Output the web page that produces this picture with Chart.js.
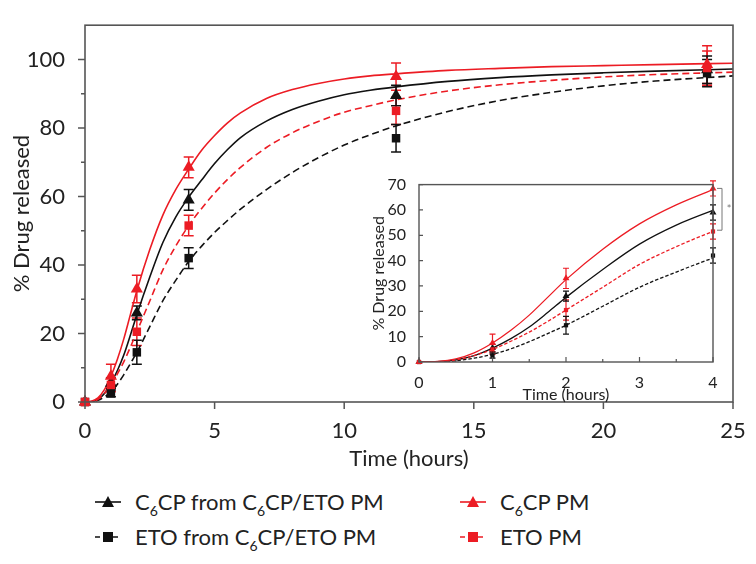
<!DOCTYPE html>
<html>
<head>
<meta charset="utf-8">
<script src="https://cdn.jsdelivr.net/npm/chart.js@4.4.1/dist/chart.umd.min.js"></script>
<style>
  body { margin: 0; background: #fff; font-family: Lato, "Open Sans", sans-serif; color: #222; }
  #wrap { position: relative; width: 756px; height: 564px; overflow: hidden; }
  #main { position: absolute; left: 0; top: 0; }
  #inset { position: absolute; left: 360px; top: 170px; }
  .leg { position: absolute; font-size: 22px; line-height: 26px; white-space: nowrap; display: flex; align-items: center; }
  .leg svg { margin-right: 14px; }
  .leg sub { font-size: 14px; vertical-align: -6px; line-height: 0; }
</style>
</head>
<body>
<div id="wrap">
  <canvas id="main" width="756" height="480"></canvas>
  <canvas id="inset" width="395" height="240"></canvas>
  <div id="legend"></div>
</div>
<script>
// sampling times and measured release (%), with error bars
const sampleHours = [0, 1, 2, 4, 12, 24];
const c6cpMix    = [0, 5.5, 26, 59, 89.5, 97];
const c6cpMixErr = [0, 1.5, 2, 3, 3, 4];
const etoMix     = [0, 2.5, 14.5, 42, 77, 96];
const etoMixErr  = [0, 1, 3.5, 3, 4, 4];
const c6cpPM     = [0, 7.5, 33, 68.5, 95, 98.5];
const c6cpPMErr  = [0, 3.5, 4, 3, 4, 5.5];
const etoPM      = [0, 5, 20.5, 51.5, 85, 97.5];
const etoPMErr   = [0, 2, 4, 3, 4, 5];

// fitted curves
const fitHours   = [0, 0.25, 0.5, 0.75, 1, 1.25, 1.5, 1.75, 2, 2.5, 3, 3.5, 4, 4.5, 5, 5.5, 6, 7, 8, 9, 10, 11, 12, 14, 16, 18, 20, 22, 25];
const c6cpMixFit = [0, 0.1, 0.8, 2.5, 5.5, 9.2, 13.8, 19.5, 25.5, 36.5, 46.5, 54, 59.8, 64.8, 69.6, 73.7, 77.2, 82, 85.4, 87.8, 89.7, 91, 92, 93.6, 94.7, 95.5, 96.1, 96.6, 97.2];
const etoMixFit  = [0, 0, 0.5, 1.5, 3, 5.2, 8, 11.2, 14.5, 22, 29.5, 35.5, 41, 45.5, 49.5, 53, 56.3, 62, 67, 71.3, 75, 78, 80.6, 84.8, 88, 90.4, 92.3, 93.7, 95.2];
const c6cpPMFit  = [0, 0.2, 1.2, 3.6, 7.5, 12.5, 18.5, 25.5, 32.5, 44.5, 54.5, 62, 68, 73.5, 77.8, 81.5, 84.4, 88.6, 91.2, 93, 94.3, 95.2, 95.8, 96.8, 97.4, 97.9, 98.2, 98.5, 98.9];
const etoPMFit   = [0, 0.1, 0.8, 2.5, 5, 8.2, 11.8, 16, 20.5, 29.5, 38.5, 45.5, 51.5, 56.5, 61, 65, 68.5, 74.3, 78.6, 81.9, 84.6, 86.5, 88.2, 90.8, 92.6, 93.9, 94.9, 95.6, 96.3];

// significance bracket in the inset (at 4 h)
const bracketRange = [52, 68.5];

const mainYTicks = [0, 20, 40, 60, 80, 100];
const mainXTicks = [0, 5, 10, 15, 20, 25];
const insetYTicks = [0, 10, 20, 30, 40, 50, 60, 70];
const insetXTicks = [0, 1, 2, 3, 4];

const RED = '#ec1c24';
const BLACK = '#111111';
const AXIS = '#555555';

const series = [
  { label: 'C<sub>6</sub>CP PM', y: c6cpPM, err: c6cpPMErr, fit: c6cpPMFit, color: RED, shape: 'triangle', dash: [] },
  { label: 'ETO PM', y: etoPM, err: etoPMErr, fit: etoPMFit, color: RED, shape: 'rect', dash: [7, 4] },
  { label: 'C<sub>6</sub>CP from C<sub>6</sub>CP/ETO PM', y: c6cpMix, err: c6cpMixErr, fit: c6cpMixFit, color: BLACK, shape: 'triangle', dash: [] },
  { label: 'ETO from C<sub>6</sub>CP/ETO PM', y: etoMix, err: etoMixErr, fit: etoMixFit, color: BLACK, shape: 'rect', dash: [7, 4] }
];

function pts(xs, ys, maxX) {
  const out = [];
  xs.forEach((x, i) => { if (x <= maxX) out.push({ x: x, y: ys[i] }); });
  return out;
}

function buildDatasets(maxX, radius, lineW, dashScale) {
  const ds = [];
  series.forEach((s, i) => {
    ds.push({
      data: pts(sampleHours, s.y, maxX),
      errors: s.err,
      showLine: false,
      pointStyle: s.shape,
      pointRadius: s.shape === 'triangle' ? radius + 1 : radius,
      backgroundColor: s.color,
      borderColor: s.color,
      borderWidth: 0,
      clip: false,
      order: i
    });
    ds.push({
      data: pts(fitHours, s.fit, 25),
      showLine: true,
      pointRadius: 0,
      borderColor: s.color,
      borderWidth: lineW,
      borderDash: s.dash.map(d => d * dashScale),
      cubicInterpolationMode: 'monotone',
      order: 10 + i
    });
  });
  return ds;
}

// box, custom ticks and error bars
const decor = {
  id: 'decor',
  beforeDatasetsDraw(chart, args, opts) {
    const ctx = chart.ctx;
    const xs = chart.scales.x, ys = chart.scales.y;
    ctx.save();
    chart.data.datasets.forEach(ds => {
      if (!ds.errors) return;
      ctx.strokeStyle = ds.borderColor;
      ctx.lineWidth = opts.errW;
      ds.data.forEach((p, i) => {
        const e = ds.errors[i];
        if (!e) return;
        const px = xs.getPixelForValue(p.x);
        const top = ys.getPixelForValue(p.y + e);
        const bot = ys.getPixelForValue(p.y - e);
        ctx.beginPath();
        ctx.moveTo(px, top); ctx.lineTo(px, bot);
        ctx.moveTo(px - opts.cap, top); ctx.lineTo(px + opts.cap, top);
        ctx.moveTo(px - opts.cap, bot); ctx.lineTo(px + opts.cap, bot);
        ctx.stroke();
      });
    });
    ctx.restore();
  },
  afterDatasetsDraw(chart, args, opts) {
    const ctx = chart.ctx;
    const a = chart.chartArea;
    const xs = chart.scales.x, ys = chart.scales.y;
    ctx.save();
    ctx.strokeStyle = AXIS;
    ctx.lineWidth = opts.boxW;
    ctx.strokeRect(a.left, a.top, a.right - a.left, a.bottom - a.top);
    ctx.lineWidth = opts.tickW;
    ctx.beginPath();
    opts.xTicks.forEach(t => {
      const px = xs.getPixelForValue(t.v);
      ctx.moveTo(px, a.bottom); ctx.lineTo(px, a.bottom + t.len);
    });
    opts.yTicks.forEach(t => {
      const py = ys.getPixelForValue(t.v);
      ctx.moveTo(a.left, py); ctx.lineTo(a.left - t.len, py);
    });
    ctx.stroke();
    if (opts.bracket) {
      const bx = xs.getPixelForValue(4) + 9;
      const y1 = ys.getPixelForValue(bracketRange[1]);
      const y2 = ys.getPixelForValue(bracketRange[0]);
      ctx.strokeStyle = '#777';
      ctx.lineWidth = 1;
      ctx.beginPath();
      ctx.moveTo(bx - 5, y1); ctx.lineTo(bx, y1); ctx.lineTo(bx, y2); ctx.lineTo(bx - 5, y2);
      ctx.stroke();
      ctx.fillStyle = '#777';
      ctx.font = '11px Lato';
      ctx.textAlign = 'center';
      ctx.textBaseline = 'middle';
      ctx.fillText('*', bx + 7, (y1 + y2) / 2);
    }
    ctx.restore();
  }
};

function tickList(from, to, step, majors, majorLen, minorLen) {
  const list = [];
  for (let v = from; v <= to + 1e-9; v += step) {
    list.push({ v: v, len: majors.includes(v) ? majorLen : minorLen });
  }
  return list;
}

const mainChart = new Chart(document.getElementById('main').getContext('2d'), {
  type: 'scatter',
  data: { datasets: buildDatasets(25, 6, 1.6, 1) },
  plugins: [decor],
  options: {
    responsive: false,
    animation: false,
    layout: { padding: { top: 10, right: 23, left: 0, bottom: 0 } },
    plugins: {
      legend: { display: false },
      tooltip: { enabled: false },
      decor: {
        errW: 1.5, cap: 5, boxW: 1.6, tickW: 1.5,
        xTicks: tickList(0, 25, 5, mainXTicks, 7, 7),
        yTicks: tickList(0, 100, 10, mainYTicks, 7, 4)
      }
    },
    scales: {
      x: {
        type: 'linear', min: 0, max: 25,
        grid: { display: false }, border: { display: false },
        afterFit: s => { s.height = 78; },
        afterBuildTicks: s => { s.ticks = mainXTicks.map(v => ({ value: v })); },
        ticks: { padding: 8, color: '#222', font: { family: 'Lato', size: 22 } },
        title: { display: true, text: 'Time (hours)', color: '#222', padding: { top: 0, bottom: 8 }, font: { family: 'Lato', size: 22 } }
      },
      y: {
        min: 0, max: 110,
        grid: { display: false }, border: { display: false },
        afterFit: s => { s.width = 85; },
        afterBuildTicks: s => { s.ticks = mainYTicks.map(v => ({ value: v })); },
        ticks: { padding: 12, color: '#222', font: { family: 'Lato', size: 22 } },
        title: { display: true, text: '% Drug released', color: '#222', padding: { top: 9, bottom: 0 }, font: { family: 'Lato', size: 22 } }
      }
    }
  }
});

// inset ticks point inward: negative lengths
const insetChart = new Chart(document.getElementById('inset').getContext('2d'), {
  type: 'scatter',
  data: { datasets: buildDatasets(4, 3, 1.3, 0.5) },
  plugins: [decor],
  options: {
    responsive: false,
    animation: false,
    layout: { padding: { top: 14, right: 42, left: 0, bottom: 0 } },
    plugins: {
      legend: { display: false },
      tooltip: { enabled: false },
      decor: {
        errW: 1.2, cap: 3, boxW: 1.4, tickW: 1.2, bracket: true,
        xTicks: tickList(0, 4, 0.5, insetXTicks, -5, -3),
        yTicks: tickList(0, 70, 10, insetYTicks, -4, -4)
      }
    },
    scales: {
      x: {
        type: 'linear', min: 0, max: 4,
        grid: { display: false }, border: { display: false },
        afterFit: s => { s.height = 48; },
        afterBuildTicks: s => { s.ticks = insetXTicks.map(v => ({ value: v })); },
        ticks: { padding: 3, color: '#222', font: { family: 'Lato', size: 16 } },
        title: { display: true, text: 'Time (hours)', color: '#222', padding: { top: 0, bottom: 6 }, font: { family: 'Lato', size: 16 } }
      },
      y: {
        min: 0, max: 70,
        grid: { display: false }, border: { display: false },
        afterFit: s => { s.width = 59; },
        afterBuildTicks: s => { s.ticks = insetYTicks.map(v => ({ value: v })); },
        ticks: { padding: 5, color: '#222', font: { family: 'Lato', size: 16 } },
        title: { display: true, text: '% Drug released', color: '#222', padding: { top: 9, bottom: 0 }, font: { family: 'Lato', size: 16 } }
      }
    }
  }
});

// legend below the chart, two columns
const legendPos = [
  { s: 2, left: 95, top: 489 },
  { s: 3, left: 95, top: 524 },
  { s: 0, left: 460, top: 489 },
  { s: 1, left: 460, top: 524 }
];
const legendBox = document.getElementById('legend');
legendPos.forEach(p => {
  const s = series[p.s];
  const marker = s.shape === 'triangle'
    ? '<polygon points="13,1 19,12 7,12" fill="' + s.color + '"/>'
    : '<rect x="8" y="2" width="10" height="10" fill="' + s.color + '"/>';
  const dash = s.dash.length ? ' stroke-dasharray="5,4"' : '';
  const div = document.createElement('div');
  div.className = 'leg';
  div.style.left = p.left + 'px';
  div.style.top = p.top + 'px';
  div.innerHTML = '<svg width="26" height="14"><line x1="0" y1="7" x2="26" y2="7" stroke="' + s.color + '" stroke-width="1.6"' + dash + '/>' + marker + '</svg><span>' + s.label + '</span>';
  legendBox.appendChild(div);
});
</script>
</body>
</html>
